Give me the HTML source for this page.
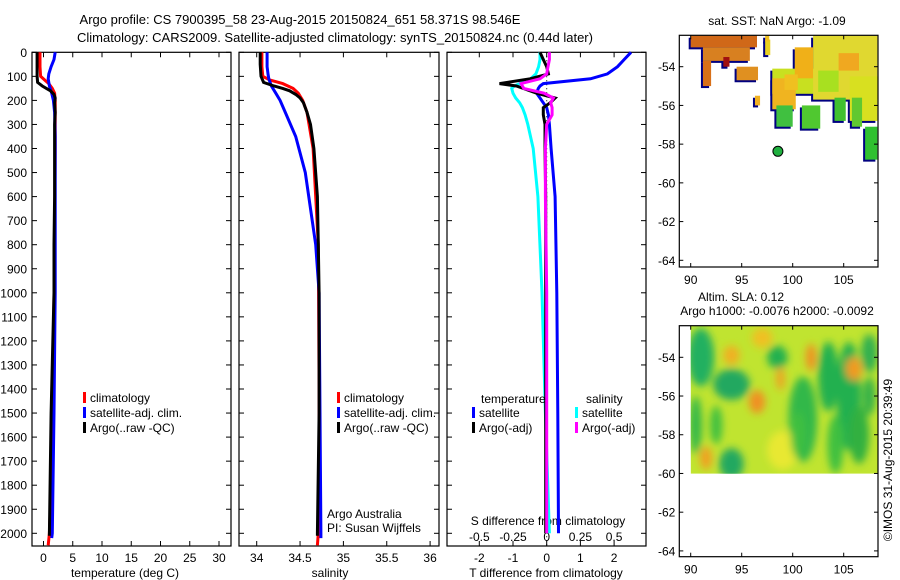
<!DOCTYPE html>
<html><head><meta charset="utf-8">
<style>
body{margin:0;background:#fff;}
svg{display:block;font-family:"Liberation Sans",sans-serif;}
text{font-size:12px;fill:#000;}
</style></head>
<body>
<svg id="fig" width="900" height="580" viewBox="0 0 900 580">
<defs>
<filter id="blur" x="-20%" y="-20%" width="140%" height="140%"><feGaussianBlur stdDeviation="4"/></filter>
<clipPath id="clip2"><rect x="690.7" y="325.7" width="187.3" height="148"/></clipPath>
<clipPath id="clip1"><rect x="679.3" y="35.3" width="198.7" height="231.7"/></clipPath>
</defs>
<text x="300" y="24" text-anchor="middle" style="font-size:13px">Argo profile: CS 7900395_58 23-Aug-2015 20150824_651 58.371S 98.546E</text>
<text x="335" y="42" text-anchor="middle" style="font-size:13px">Climatology: CARS2009. Satellite-adjusted climatology: synTS_20150824.nc (0.44d later)</text>
<g id="plots"></g>
<text transform="translate(892,460) rotate(-90)" text-anchor="middle">©IMOS 31-Aug-2015 20:39:49</text>
</svg>
<script>
// ---- data ----
const depthTicks=[0,100,200,300,400,500,600,700,800,900,1000,1100,1200,1300,1400,1500,1600,1700,1800,1900,2000];
const tempTicks=[0,5,10,15,20,25,30];
const salTicks=[34,34.5,35,35.5,36];
const tdiffTicks=[-2,-1,0,1,2];
const sdiffTicks=[-0.5,-0.25,0,0.25,0.5];
const sdiffLabels=["-0.5","-0.25","0","0.25","0.5"];

const climDepth=[0,60,100,115,130,150,170,200,250,400,800,1400,1800,2000,2050];
const climTemp=[-0.6,-0.6,-0.5,0.2,0.9,1.5,1.9,2.0,2.0,2.0,1.9,1.6,1.3,1.0,0.8];
const climSal=[34.06,34.06,34.07,34.15,34.3,34.42,34.48,34.53,34.58,34.65,34.71,34.72,34.72,34.71,34.70];

const satDepth=[0,30,60,90,110,140,170,200,250,350,500,800,1000,1500,2000,2020];
const satTemp=[2.0,1.8,1.3,0.9,0.8,1.0,1.4,1.7,1.9,2.0,2.0,2.0,2.0,1.8,1.5,1.4];
const satSal=[34.12,34.12,34.12,34.13,34.14,34.17,34.22,34.27,34.33,34.45,34.56,34.68,34.72,34.73,34.74,34.74];

const argoDepth=[0,50,100,125,140,150,160,175,190,210,250,300,400,600,800,1000,1500,2000,2010];
const argoTemp=[-1.1,-1.1,-1.1,-1.0,-0.2,0.5,1.2,1.8,2.0,1.9,2.0,1.9,1.9,1.9,1.8,1.8,1.3,1.0,1.0];
const argoSal=[34.04,34.04,34.05,34.08,34.2,34.3,34.38,34.45,34.5,34.54,34.58,34.62,34.66,34.7,34.71,34.72,34.72,34.70,34.70];

const dDepth=[0,30,60,90,110,130,140,150,170,190,210,230,260,300,400,600,1000,1500,2000];
const dTsat=[2.5,2.3,2.1,1.8,1.3,-0.1,-0.2,-0.25,-0.3,-0.2,-0.1,0.0,0.05,0.08,0.13,0.25,0.3,0.33,0.35];
const dTargo=[-0.2,-0.1,0.0,0.05,-0.5,-1.4,-0.9,-0.7,-0.3,0.25,0.1,-0.1,-0.1,-0.05,-0.05,-0.03,-0.03,-0.03,-0.03];
const dSsat=[-0.05,-0.05,-0.06,-0.08,-0.12,-0.2,-0.24,-0.26,-0.25,-0.23,-0.2,-0.18,-0.16,-0.14,-0.1,-0.065,-0.035,-0.01,0.02];
const dSargo=[0.02,0.02,0.01,0.0,-0.05,-0.19,-0.18,-0.17,-0.02,0.05,0.03,0.04,0.04,0.0,-0.01,-0.01,0.0,0.0,0.0];

// SST patches: lon range, lat range, colour
const sstLon0=[90,91.2,91.2,94.5,97.3,96.3,97.3,98,98,100.2,102,105.6,98.4,100.9,104.1,105.8,107.1,102.5,104.5,93.2,99.2];
const sstLon1=[96.5,95.8,92,96.6,97.8,96.8,97.7,103.8,100.3,102,108.3,108.3,100,102.7,105.2,106.8,108.3,104.5,106.5,93.8,100.5];
const sstLatT=[-52.4,-53.0,-53.7,-54.0,-52.6,-55.5,-52.4,-54.1,-54.6,-53.0,-52.4,-54.5,-56.0,-56.0,-55.6,-55.6,-57.1,-54.2,-53.3,-53.5,-54.4];
const sstLatB=[-53.0,-53.7,-55.0,-54.7,-53.4,-56.0,-52.7,-55.4,-56.2,-54.6,-55.7,-56.8,-57.1,-57.2,-56.8,-57.1,-58.8,-55.3,-54.2,-54.0,-55.2];
const sstCol=["#d06818","#d88020","#d87018","#e09020","#e8d020","#f0b020","#f0c020","#c8e020","#f0b420","#f0b018","#e0d830","#d8e020","#40c040","#50c830","#40c030","#60c830","#30c030","#a8e020","#f0a820","#a01010","#f0c020"];
const argoLon=[98.55], argoLat=[-58.37];

const slaLon=[91,94,98.5,101,103.5,105.5,107.5,96.5,98.8,101.8,106,94,91.5,94,99,106.5,92.5,104.2,90.5,97,100.5,107.5];
const slaLat=[-54,-55.4,-54,-57.2,-55,-56,-53.8,-56.3,-55.1,-54,-54.6,-53.9,-59.2,-59.5,-58.8,-58,-57.5,-58.5,-57.5,-53,-58,-56];
const slaRx=[1.3,1.8,1.0,1.4,1.0,1.2,0.8,0.8,0.4,0.5,0.8,0.8,0.6,1.2,1.5,1.0,0.6,0.8,0.6,1.0,0.7,0.6];
const slaRy=[1.5,0.8,0.6,2.2,1.8,2.8,1.0,0.6,0.6,0.7,0.6,0.5,0.6,0.8,1.0,1.5,1.0,1.5,1.5,0.5,1.2,1.0];
const slaCol=["#20b060","#20a860","#20b050","#30b848","#20b050","#20b050","#30b050","#f09020","#f0a020","#f09020","#f09a20","#f0b020","#f0a020","#20a860","#e8e830","#30b040","#40c040","#40c040","#30b848","#f0c020","#40c040","#30b048"];

// ---- helpers ----
const NS="http://www.w3.org/2000/svg";
const G=document.getElementById('plots');
function mk(tag,at,parent){const e=document.createElementNS(NS,tag);for(const k in at)e.setAttribute(k,at[k]);(parent||G).appendChild(e);return e;}
const yTop=52.3,yPer=0.2405,yBot=546;
const Y=d=>yTop+d*yPer;
function panel(name,x0,x1){
  const r=mk('rect',{x:x0,y:yTop,width:x1-x0,height:yBot-yTop,fill:'none',stroke:'#000','stroke-width':1.2});
  
  
  depthTicks.forEach(d=>{
    mk('line',{x1:x0,x2:x0+5,y1:Y(d),y2:Y(d),stroke:'#000'});
    mk('line',{x1:x1-5,x2:x1,y1:Y(d),y2:Y(d),stroke:'#000'});
  });
}
function line(name,xs,ds,fx,color,w,dash){
  const pts=xs.map((v,i)=>fx(v).toFixed(1)+','+Y(ds[i]).toFixed(1)).join(' ');
  const p=mk('polyline',{points:pts,fill:'none',stroke:color,'stroke-width':w||3,'stroke-linejoin':'miter'});
  if(dash)p.setAttribute('stroke-dasharray',dash);
  
  
}
function txt(s,x,y,anchor,name){const t=mk('text',{x:x,y:y,'text-anchor':anchor||'start'});t.textContent=s;
  
  return t;}
function legendItem(color,label,x,y,name){
  mk('rect',{x:x,y:y-6,width:3,height:11,fill:color});
  txt(label,x+7,y+4,'start',name);
}

// ---- panel 1 temperature ----
const xT=v=>43.5+v*5.85;
panel('temperature-panel',32,231);
depthTicks.forEach(d=>txt(String(d),27,Y(d)+4.5,'end','depth-tick-label'));
tempTicks.forEach(v=>{mk('line',{x1:xT(v),x2:xT(v),y1:yBot,y2:yBot-5,stroke:'#000'});mk('line',{x1:xT(v),x2:xT(v),y1:yTop,y2:yTop+5,stroke:'#000'});txt(String(v),xT(v),562,'middle','temperature-tick-label');});
txt('temperature (deg C)',125,577,'middle','temperature-axis-title');
line('temp-climatology',climTemp,climDepth,xT,'#ff0000');
line('temp-satellite-adj',satTemp,satDepth,xT,'#0000ff');
line('temp-argo',argoTemp,argoDepth,xT,'#000000');
legendItem('#ff0000','climatology',83,398,'legend-climatology');
legendItem('#0000ff','satellite-adj. clim.',83,413,'legend-satellite');
legendItem('#000000','Argo(..raw -QC)',83,428,'legend-argo');

// ---- panel 2 salinity ----
const xS=v=>256.7+(v-34)*86.7;
panel('salinity-panel',239,439);
salTicks.forEach(v=>{mk('line',{x1:xS(v),x2:xS(v),y1:yBot,y2:yBot-5,stroke:'#000'});mk('line',{x1:xS(v),x2:xS(v),y1:yTop,y2:yTop+5,stroke:'#000'});txt(String(v),xS(v),562,'middle','salinity-tick-label');});
txt('salinity',330,577,'middle','salinity-axis-title');
line('sal-climatology',climSal,climDepth,xS,'#ff0000');
line('sal-satellite-adj',satSal,satDepth,xS,'#0000ff');
line('sal-argo',argoSal,argoDepth,xS,'#000000');
legendItem('#ff0000','climatology',337,398,'legend-climatology-sal');
legendItem('#0000ff','satellite-adj. clim.',337,413,'legend-satellite-sal');
legendItem('#000000','Argo(..raw -QC)',337,428,'legend-argo-sal');
txt('Argo Australia',327,518,'start','argo-australia-label');
txt('PI: Susan Wijffels',327,532,'start','pi-label');

// ---- panel 3 differences ----
const xD=v=>546.7+v*33.7;
const xDS=v=>546.7+v*4*33.7;
panel('difference-panel',447,646);
tdiffTicks.forEach(v=>{mk('line',{x1:xD(v),x2:xD(v),y1:yBot,y2:yBot-5,stroke:'#000'});mk('line',{x1:xD(v),x2:xD(v),y1:yTop,y2:yTop+5,stroke:'#000'});txt(String(v),xD(v),562,'middle','tdiff-tick-label');});
sdiffTicks.forEach((v,i)=>txt(sdiffLabels[i],xDS(v),541,'middle','sdiff-tick-label'));
txt('T difference from climatology',546,577,'middle','tdiff-axis-title');
txt('S difference from climatology',548,525,'middle','sdiff-axis-title');
const zeroD=[0,2050];
line('zero-line',[0,0],zeroD,xD,'#000',1,'1,3');
line('tdiff-satellite',dTsat,dDepth,xD,'#0000ff');
line('sdiff-satellite',dSsat,dDepth,xDS,'#00ffff');
line('tdiff-argo',dTargo,dDepth,xD,'#000000');
line('sdiff-argo',dSargo,dDepth,xDS,'#ff00ff');
txt('temperature',481,403,'start','legend-temperature-heading');
txt('salinity',586,403,'start','legend-salinity-heading');
legendItem('#0000ff','satellite',472,413,'legend-tdiff-satellite');
legendItem('#000000','Argo(-adj)',472,428,'legend-tdiff-argo');
legendItem('#00ffff','satellite',575,413,'legend-sdiff-satellite');
legendItem('#ff00ff','Argo(-adj)',575,428,'legend-sdiff-argo');

// ---- map helpers ----
function mapAxes(name,x0,y0,x1,y1,lx,ly){
  const r=mk('rect',{x:x0,y:y0,width:x1-x0,height:y1-y0,fill:'none',stroke:'#000','stroke-width':1.2});
  
  
  [90,95,100,105].forEach(v=>{const x=lx(v);mk('line',{x1:x,x2:x,y1:y1,y2:y1-4,stroke:'#000'});mk('line',{x1:x,x2:x,y1:y0,y2:y0+4,stroke:'#000'});txt(String(v),x,y1+17,'middle','lon-tick-label');});
  [-54,-56,-58,-60,-62,-64].forEach(v=>{const y=ly(v);mk('line',{x1:x0,x2:x0+4,y1:y,y2:y,stroke:'#000'});mk('line',{x1:x1-4,x2:x1,y1:y,y2:y,stroke:'#000'});txt(String(v),x0-4,y+4.5,'end','lat-tick-label');});
}
// ---- map 1 SST ----
const m1x=v=>690.7+(v-90)*10.2, m1y=v=>66.7+(-54-v)*19.36;
const g1=mk('g',{'clip-path':'url(#clip1)'});


sstLon0.forEach((v,i)=>{
  const x=m1x(v),w=m1x(sstLon1[i])-x,y=m1y(sstLatT[i]),h=m1y(sstLatB[i])-y;
  const sh=mk('rect',{x:x-2,y:y+2,width:w,height:h,fill:'#000080'},g1);
  
  
});
sstLon0.forEach((v,i)=>{
  const x=m1x(v),w=m1x(sstLon1[i])-x,y=m1y(sstLatT[i]),h=m1y(sstLatB[i])-y;
  const p=mk('rect',{x:x,y:y,width:w,height:h,fill:sstCol[i]},g1);
  
  
});
argoLon.forEach((v,i)=>{
  const c=mk('circle',{cx:m1x(v),cy:m1y(argoLat[i]),r:5,fill:'#20b040',stroke:'#000','stroke-width':1});
  
  
});
mapAxes('sst-map',679.3,35.3,878,267,m1x,m1y);
txt('sat. SST: NaN Argo: -1.09',777,25,'middle','sst-map-title');

// ---- map 2 SLA ----
const m2x=v=>690.7+(v-90)*10.2, m2y=v=>357.3+(-54-v)*19.36;
const cg=mk('g',{'clip-path':'url(#clip2)'});


mk('rect',{x:690.7,y:325.7,width:187.3,height:148,fill:'#c0e430'},cg);
const bg=mk('g',{filter:'url(#blur)'},cg);
slaLon.forEach((v,i)=>{
  const e=mk('ellipse',{cx:m2x(v),cy:m2y(slaLat[i]),rx:slaRx[i]*10.2,ry:slaRy[i]*19.36,fill:slaCol[i]},bg);
  
  
});
mapAxes('sla-map',679.3,325.7,878,556.7,m2x,m2y);
txt('Altim. SLA: 0.12',741,301,'middle','sla-map-title');
txt('Argo h1000: -0.0076 h2000: -0.0092',777,315,'middle','sla-map-subtitle');
</script>
</body></html>
